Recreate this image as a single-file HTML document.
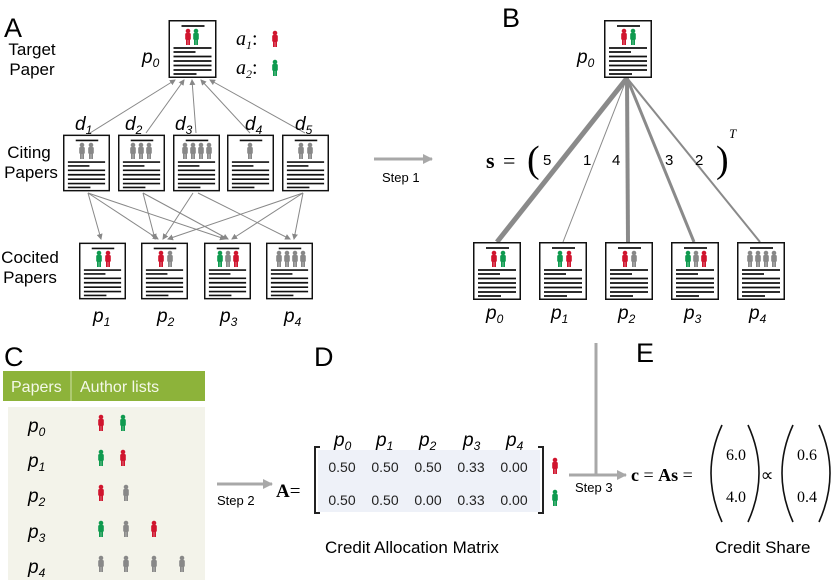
<!DOCTYPE html>
<html><head><meta charset="utf-8"><style>
body{margin:0;background:#fff}
svg{display:block;font-family:"Liberation Sans",sans-serif}
.it{font-style:italic}
.sr{font-family:"Liberation Serif",serif}
</style></head><body>
<svg width="833" height="580" viewBox="0 0 833 580" xmlns="http://www.w3.org/2000/svg">
<defs>
<symbol id="pap" viewBox="0 0 48 58" width="48" height="58" overflow="visible">
<rect x="0.75" y="0.75" width="46.5" height="56.5" fill="#fff" stroke="#111" stroke-width="1.5"/>
<g stroke="#111" stroke-width="1.7">
<line x1="13" y1="6" x2="36" y2="6"/>
<line x1="5" y1="28" x2="43" y2="28"/>
<line x1="5" y1="32" x2="27" y2="32"/>
<line x1="5" y1="36.5" x2="43" y2="36.5"/>
<line x1="5" y1="41" x2="43" y2="41"/>
<line x1="5" y1="45.5" x2="43" y2="45.5"/>
<line x1="5" y1="50" x2="43" y2="50"/>
<line x1="5" y1="54" x2="28" y2="54"/>
</g>
</symbol>
<symbol id="per" viewBox="0 0 6 16" width="6" height="16" overflow="visible">
<circle cx="3" cy="2" r="2.3"/>
<rect x="0.2" y="4" width="5.6" height="7" rx="1.2"/>
<rect x="1" y="10" width="1.8" height="6"/>
<rect x="3.2" y="10" width="1.8" height="6"/>
</symbol>
<marker id="ah" markerWidth="6" markerHeight="6" refX="5" refY="3" orient="auto" markerUnits="userSpaceOnUse"><path d="M0,0 L6,3 L0,6 z" fill="#888"/></marker>
<marker id="bh" markerWidth="10" markerHeight="10" refX="9" refY="5" orient="auto" markerUnits="userSpaceOnUse"><path d="M0,0 L10,5 L0,10 z" fill="#a8a8a8"/></marker>
</defs>

<!-- Panel A -->
<text x="4" y="37" font-size="27">A</text>
<text x="32" y="55" font-size="17" text-anchor="middle">Target</text>
<text x="32" y="75" font-size="17" text-anchor="middle">Paper</text>
<text x="29" y="158" font-size="17" text-anchor="middle">Citing</text>
<text x="31" y="178" font-size="17" text-anchor="middle">Papers</text>
<text x="30" y="263" font-size="17" text-anchor="middle">Cocited</text>
<text x="30" y="283" font-size="17" text-anchor="middle">Papers</text>

<g stroke="#888" stroke-width="1" fill="none" marker-end="url(#ah)">
<line x1="90" y1="133" x2="175" y2="80"/>
<line x1="146" y1="133" x2="184" y2="80"/>
<line x1="196" y1="133" x2="192" y2="80"/>
<line x1="250" y1="133" x2="201" y2="80"/>
<line x1="305" y1="133" x2="210" y2="80"/>
<line x1="88" y1="193" x2="101" y2="239"/>
<line x1="88" y1="193" x2="158" y2="239"/>
<line x1="88" y1="193" x2="225" y2="239"/>
<line x1="143" y1="193" x2="155" y2="239"/>
<line x1="143" y1="193" x2="228" y2="239"/>
<line x1="193" y1="193" x2="163" y2="239"/>
<line x1="198" y1="193" x2="290" y2="239"/>
<line x1="303" y1="193" x2="168" y2="239"/>
<line x1="303" y1="193" x2="232" y2="239"/>
<line x1="303" y1="193" x2="294" y2="239"/>
</g>

<use href="#pap" x="168" y="20" width="49" height="58"/>
<use href="#per" x="185" y="29" fill="#d0152e"/><use href="#per" x="193" y="29" fill="#0f9a4f"/>
<text x="142" y="63" font-size="19" class="it">p<tspan font-size="12" dy="4">0</tspan></text>
<text x="236" y="45" font-size="20" class="sr it">a<tspan font-size="12" dy="4">1</tspan><tspan dy="-4" font-style="normal">:</tspan></text>
<use href="#per" x="272" y="31" fill="#d0152e"/>
<text x="236" y="74" font-size="20" class="sr it">a<tspan font-size="12" dy="4">2</tspan><tspan dy="-4" font-style="normal">:</tspan></text>
<use href="#per" x="272" y="60" fill="#0f9a4f"/>

<g font-size="19" class="it">
<text x="75" y="130">d<tspan font-size="12" dy="4">1</tspan></text>
<text x="125" y="130">d<tspan font-size="12" dy="4">2</tspan></text>
<text x="175" y="130">d<tspan font-size="12" dy="4">3</tspan></text>
<text x="245" y="130">d<tspan font-size="12" dy="4">4</tspan></text>
<text x="295" y="130">d<tspan font-size="12" dy="4">5</tspan></text>
</g>
<use href="#pap" x="63" y="134" width="47" height="58"/>
<use href="#pap" x="118" y="134" width="47" height="58"/>
<use href="#pap" x="173" y="134" width="47" height="58"/>
<use href="#pap" x="227" y="134" width="47" height="58"/>
<use href="#pap" x="282" y="134" width="47" height="58"/>
<g fill="#888">
<use href="#per" x="79" y="143"/><use href="#per" x="88" y="143"/>
<use href="#per" x="130" y="143"/><use href="#per" x="138" y="143"/><use href="#per" x="146" y="143"/>
<use href="#per" x="182" y="143"/><use href="#per" x="190" y="143"/><use href="#per" x="198" y="143"/><use href="#per" x="206" y="143"/>
<use href="#per" x="247" y="143"/>
<use href="#per" x="298" y="143"/><use href="#per" x="307" y="143"/>
</g>

<use href="#pap" x="79" y="242" width="47" height="58"/>
<use href="#pap" x="141" y="242" width="47" height="58"/>
<use href="#pap" x="204" y="242" width="47" height="58"/>
<use href="#pap" x="266" y="242" width="47" height="58"/>
<use href="#per" x="96" y="251" fill="#0f9a4f"/><use href="#per" x="105" y="251" fill="#d0152e"/>
<use href="#per" x="158" y="251" fill="#d0152e"/><use href="#per" x="167" y="251" fill="#888"/>
<use href="#per" x="217" y="251" fill="#0f9a4f"/><use href="#per" x="225" y="251" fill="#888"/><use href="#per" x="233" y="251" fill="#d0152e"/>
<g fill="#888"><use href="#per" x="276" y="251"/><use href="#per" x="284" y="251"/><use href="#per" x="292" y="251"/><use href="#per" x="300" y="251"/></g>
<g font-size="19" class="it">
<text x="93" y="322">p<tspan font-size="12" dy="4">1</tspan></text>
<text x="157" y="322">p<tspan font-size="12" dy="4">2</tspan></text>
<text x="220" y="322">p<tspan font-size="12" dy="4">3</tspan></text>
<text x="284" y="322">p<tspan font-size="12" dy="4">4</tspan></text>
</g>

<!-- Step 1 -->
<line x1="374" y1="159" x2="432" y2="159" stroke="#a8a8a8" stroke-width="3" marker-end="url(#bh)"/>
<text x="382" y="182" font-size="13">Step 1</text>

<!-- Panel B -->
<text x="502" y="27" font-size="27">B</text>
<g stroke="#8a8a8a" fill="none">
<line x1="627" y1="78" x2="497" y2="242" stroke-width="5"/>
<line x1="627" y1="78" x2="563" y2="242" stroke-width="1"/>
<line x1="627" y1="78" x2="628" y2="242" stroke-width="4"/>
<line x1="627" y1="78" x2="694" y2="242" stroke-width="3"/>
<line x1="627" y1="78" x2="760" y2="242" stroke-width="2"/>
</g>
<use href="#pap" x="604" y="20" width="48" height="58"/>
<use href="#per" x="621" y="29" fill="#d0152e"/><use href="#per" x="630" y="29" fill="#0f9a4f"/>
<text x="577" y="63" font-size="19" class="it">p<tspan font-size="12" dy="4">0</tspan></text>
<text x="486" y="168" font-size="22" class="sr" font-weight="bold">s</text>
<text x="503" y="168" font-size="22" class="sr">=</text>
<text x="527" y="172" font-size="38" class="sr">(</text>
<g font-size="15">
<text x="543" y="165">5</text><text x="583" y="165">1</text><text x="612" y="165">4</text>
<text x="665" y="165">3</text><text x="695" y="165">2</text>
</g>
<text x="716" y="172" font-size="38" class="sr">)</text>
<text x="729" y="138" font-size="13" class="sr it">T</text>
<g>
<use href="#pap" x="473" y="242" width="48" height="58"/>
<use href="#pap" x="539" y="242" width="48" height="58"/>
<use href="#pap" x="605" y="242" width="48" height="58"/>
<use href="#pap" x="671" y="242" width="48" height="58"/>
<use href="#pap" x="737" y="242" width="48" height="58"/>
</g>
<use href="#per" x="491" y="251" fill="#d0152e"/><use href="#per" x="500" y="251" fill="#0f9a4f"/>
<use href="#per" x="557" y="251" fill="#0f9a4f"/><use href="#per" x="566" y="251" fill="#d0152e"/>
<use href="#per" x="622" y="251" fill="#d0152e"/><use href="#per" x="631" y="251" fill="#888"/>
<use href="#per" x="685" y="251" fill="#0f9a4f"/><use href="#per" x="693" y="251" fill="#888"/><use href="#per" x="701" y="251" fill="#d0152e"/>
<g fill="#888"><use href="#per" x="747" y="251"/><use href="#per" x="755" y="251"/><use href="#per" x="763" y="251"/><use href="#per" x="771" y="251"/></g>
<g font-size="19" class="it">
<text x="486" y="319">p<tspan font-size="12" dy="4">0</tspan></text>
<text x="551" y="319">p<tspan font-size="12" dy="4">1</tspan></text>
<text x="618" y="319">p<tspan font-size="12" dy="4">2</tspan></text>
<text x="684" y="319">p<tspan font-size="12" dy="4">3</tspan></text>
<text x="749" y="319">p<tspan font-size="12" dy="4">4</tspan></text>
</g>

<!-- Panel C -->
<text x="4" y="366" font-size="27">C</text>
<rect x="3" y="371" width="202" height="30" fill="#8db33a"/>
<line x1="71" y1="371" x2="71" y2="401" stroke="#cfe0a8" stroke-width="1"/>
<text x="11" y="392" font-size="16" fill="#f4f8e8">Papers</text>
<text x="80" y="392" font-size="16" fill="#f4f8e8">Author lists</text>
<rect x="8" y="407" width="197" height="173" fill="#f3f3ea"/>
<g font-size="19" class="it">
<text x="28" y="432">p<tspan font-size="12" dy="4">0</tspan></text>
<text x="28" y="467">p<tspan font-size="12" dy="4">1</tspan></text>
<text x="28" y="502">p<tspan font-size="12" dy="4">2</tspan></text>
<text x="28" y="538">p<tspan font-size="12" dy="4">3</tspan></text>
<text x="28" y="573">p<tspan font-size="12" dy="4">4</tspan></text>
</g>
<use href="#per" x="98" y="415" fill="#d0152e"/><use href="#per" x="120" y="415" fill="#0f9a4f"/>
<use href="#per" x="98" y="450" fill="#0f9a4f"/><use href="#per" x="120" y="450" fill="#d0152e"/>
<use href="#per" x="98" y="485" fill="#d0152e"/><use href="#per" x="123" y="485" fill="#888"/>
<use href="#per" x="98" y="521" fill="#0f9a4f"/><use href="#per" x="123" y="521" fill="#888"/><use href="#per" x="151" y="521" fill="#d0152e"/>
<g fill="#888"><use href="#per" x="98" y="556"/><use href="#per" x="123" y="556"/><use href="#per" x="151" y="556"/><use href="#per" x="179" y="556"/></g>

<!-- Step 2 -->
<line x1="217" y1="484" x2="272" y2="484" stroke="#a8a8a8" stroke-width="3" marker-end="url(#bh)"/>
<text x="217" y="505" font-size="13">Step 2</text>

<!-- Panel D -->
<text x="314" y="366" font-size="27">D</text>
<text x="276" y="497" font-size="19" class="sr" font-weight="bold">A<tspan font-weight="normal">=</tspan></text>
<rect x="318" y="450" width="222" height="62" fill="#eef1f8"/>
<path d="M320,447 H315 V513 H320" stroke="#222" stroke-width="2" fill="none"/>
<path d="M538,447 H543 V513 H538" stroke="#222" stroke-width="2" fill="none"/>
<g font-size="19" class="it">
<text x="334" y="446">p<tspan font-size="12" dy="4">0</tspan></text>
<text x="376" y="446">p<tspan font-size="12" dy="4">1</tspan></text>
<text x="419" y="446">p<tspan font-size="12" dy="4">2</tspan></text>
<text x="463" y="446">p<tspan font-size="12" dy="4">3</tspan></text>
<text x="506" y="446">p<tspan font-size="12" dy="4">4</tspan></text>
</g>
<g font-size="14" text-anchor="middle" fill="#222">
<text x="342" y="472">0.50</text><text x="385" y="472">0.50</text><text x="428" y="472">0.50</text><text x="471" y="472">0.33</text><text x="514" y="472">0.00</text>
<text x="342" y="505">0.50</text><text x="385" y="505">0.50</text><text x="428" y="505">0.00</text><text x="471" y="505">0.33</text><text x="514" y="505">0.00</text>
</g>
<use href="#per" x="552" y="458" fill="#d0152e"/>
<use href="#per" x="552" y="490" fill="#0f9a4f"/>
<text x="325" y="553" font-size="17">Credit Allocation Matrix</text>

<!-- Step 3 -->
<line x1="596" y1="343" x2="596" y2="475" stroke="#a8a8a8" stroke-width="3"/>
<line x1="569" y1="475" x2="626" y2="475" stroke="#a8a8a8" stroke-width="3" marker-end="url(#bh)"/>
<text x="575" y="492" font-size="13">Step 3</text>

<!-- Panel E -->
<text x="636" y="362" font-size="27">E</text>
<text x="631" y="481" font-size="18" class="sr"><tspan font-weight="bold">c</tspan> = <tspan font-weight="bold">As</tspan> =</text>
<path d="M722,425 Q700,473 722,522" stroke="#111" stroke-width="1.6" fill="none"/>
<path d="M748,425 Q770,473 748,522" stroke="#111" stroke-width="1.6" fill="none"/>
<text x="736" y="460" font-size="16" class="sr" text-anchor="middle">6.0</text>
<text x="736" y="502" font-size="16" class="sr" text-anchor="middle">4.0</text>
<text x="767" y="481" font-size="18" class="sr" text-anchor="middle">∝</text>
<path d="M793,425 Q771,473 793,522" stroke="#111" stroke-width="1.6" fill="none"/>
<path d="M819,425 Q841,473 819,522" stroke="#111" stroke-width="1.6" fill="none"/>
<text x="807" y="460" font-size="16" class="sr" text-anchor="middle">0.6</text>
<text x="807" y="502" font-size="16" class="sr" text-anchor="middle">0.4</text>
<text x="715" y="553" font-size="17">Credit Share</text>
</svg>
</body></html>
